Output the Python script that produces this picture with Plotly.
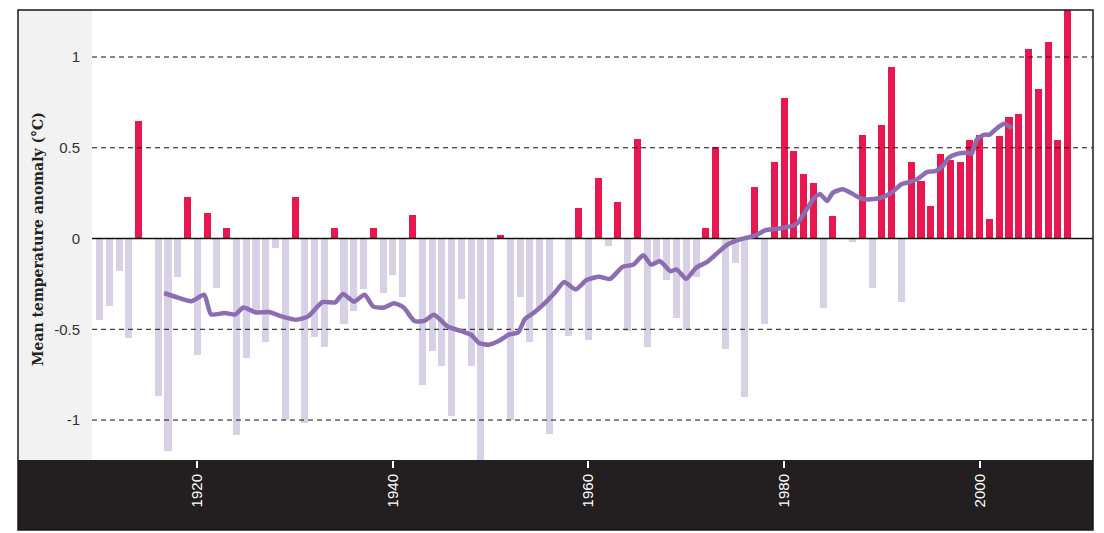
import plotly.graph_objects as go

# ---------------- data ----------------
years = list(range(1910, 2010))
anomaly = [
    -0.45, -0.37, -0.18, -0.55, 0.65, 0.0, -0.87, -1.17, -0.21, 0.23,      # 1910-1919
    -0.64, 0.14, -0.27, 0.06, -1.08, -0.66, -0.41, -0.57, -0.05, -1.00,    # 1920-1929
    0.23, -1.015, -0.545, -0.595, 0.056, -0.47, -0.40, -0.28, 0.056, -0.30,  # 1930-1939
    -0.20, -0.32, 0.128, -0.805, -0.62, -0.70, -0.976, -0.333, -0.70, -1.30,  # 1940-1949
    -0.505, 0.017, -1.00, -0.32, -0.57, -0.38, -1.076, 0.0, -0.537, 0.167,  # 1950-1959
    -0.557, 0.333, -0.043, 0.20, -0.51, 0.55, -0.60, -0.14, -0.23, -0.44,   # 1960-1969
    -0.505, -0.21, 0.056, 0.507, -0.61, -0.133, -0.875, 0.283, -0.47, 0.42, # 1970-1979
    0.776, 0.48, 0.353, 0.304, -0.38, 0.123, 0.0, -0.018, 0.573, -0.275,   # 1980-1989
    0.623, 0.947, -0.348, 0.42, 0.315, 0.178, 0.468, 0.43, 0.424, 0.545,   # 1990-1999
    0.572, 0.11, 0.567, 0.672, 0.688, 1.046, 0.826, 1.084, 0.545, 1.35,    # 2000-2009
]

trend_years = [
    1916.6, 1918.0, 1919.4, 1920.7, 1921.4, 1922.8, 1923.9, 1924.7, 1926.0, 1927.3,
    1928.7, 1930.1, 1931.3, 1932.8, 1934.1, 1934.9, 1936.0, 1937.1, 1938.0, 1939.1,
    1940.1, 1941.1, 1942.2, 1943.2, 1944.2, 1945.6, 1947.0, 1948.0, 1948.8, 1949.8,
    1950.8, 1951.9, 1952.8, 1953.5, 1954.5, 1955.4, 1956.6, 1957.5, 1958.7, 1959.8,
    1961.1, 1962.2, 1963.5, 1964.6, 1965.6, 1966.4, 1967.3, 1968.4, 1969.0, 1970.0,
    1971.0, 1972.1, 1973.2, 1974.2, 1975.1, 1976.1, 1977.1, 1978.1, 1979.1, 1980.2,
    1981.3, 1982.3, 1983.1, 1983.7, 1984.4, 1985.0, 1986.0, 1986.9, 1987.9, 1988.9,
    1989.9, 1991.0, 1992.0, 1992.8, 1993.7, 1994.6, 1995.5, 1996.3, 1996.8, 1997.7,
    1998.7, 1999.2, 1999.7, 2000.5, 2001.0, 2001.8, 2002.5, 2003.3,
]
trend_values = [
    -0.30, -0.325, -0.345, -0.31, -0.417, -0.41, -0.418, -0.38, -0.407, -0.405,
    -0.43, -0.447, -0.43, -0.35, -0.352, -0.305, -0.347, -0.31, -0.375, -0.38,
    -0.356, -0.38, -0.454, -0.454, -0.42, -0.485, -0.51, -0.53, -0.575, -0.585,
    -0.565, -0.528, -0.518, -0.443, -0.405, -0.363, -0.296, -0.24, -0.28, -0.229,
    -0.211, -0.222, -0.156, -0.143, -0.092, -0.143, -0.125, -0.18, -0.17, -0.222,
    -0.161, -0.13, -0.079, -0.033, -0.011, 0.004, 0.017, 0.046, 0.053, 0.062,
    0.08, 0.16, 0.225, 0.244, 0.207, 0.253, 0.271, 0.249, 0.22, 0.216,
    0.225, 0.253, 0.299, 0.311, 0.33, 0.366, 0.372, 0.403, 0.444, 0.466,
    0.472, 0.468, 0.545, 0.572, 0.572, 0.609, 0.633, 0.609,
]

y_ticks = [-1, -0.5, 0, 0.5, 1]
y_tick_labels = ["-1", "-0.5", "0", "0.5", "1"]
x_ticks = [1920, 1940, 1960, 1980, 2000]
x_tick_labels = ["1920", "1940", "1960", "1980", "2000"]
y_title = "Mean temperature anomaly (°C)"

# ---------------- style ----------------
RED = "#E8174F"
LAVENDER = "#D8D1E6"
LINE = "#8B6DB2"
X_RANGE = [1909.23, 2011.59]
Y_RANGE = [-1.220, 1.259]

W, H = 1104, 533
ML, MR, MT, MB = 92, 11, 10, 73
PW = W - ML - MR
PH = H - MT - MB

bar_colors = [RED if v > 0 else LAVENDER for v in anomaly]

fig = go.Figure()
fig.add_trace(go.Bar(x=years, y=anomaly, marker=dict(color=bar_colors, line=dict(width=0)),
                     width=0.72, showlegend=False, hoverinfo="x+y"))

# dashed grid lines above bars, below trend line
for v in y_ticks:
    if v == 0:
        continue
    fig.add_trace(go.Scatter(x=X_RANGE, y=[v, v], mode="lines",
                             line=dict(color="#111111", width=1, dash="5px,4px"),
                             showlegend=False, hoverinfo="skip"))
fig.add_trace(go.Scatter(x=X_RANGE, y=[0, 0], mode="lines",
                         line=dict(color="#111111", width=1.5),
                         showlegend=False, hoverinfo="skip"))

fig.add_trace(go.Scatter(x=trend_years, y=trend_values, mode="lines",
                         line=dict(color=LINE, width=4.5, shape="spline", smoothing=0.6),
                         showlegend=False))

left_px = 18
xl = (left_px - ML) / PW
yb = -(530 - (H - MB)) / PH

shapes = [
    dict(type="rect", xref="paper", yref="paper", x0=xl, x1=0, y0=0, y1=1,
         fillcolor="#F2F2F2", line=dict(width=0), layer="below"),
    dict(type="rect", xref="paper", yref="paper", x0=xl, x1=1, y0=yb, y1=0,
         fillcolor="#231F20", line=dict(width=0), layer="below"),
    dict(type="rect", xref="paper", yref="paper", x0=xl, x1=1, y0=yb, y1=1,
         fillcolor="rgba(0,0,0,0)", line=dict(color="#1a1a1a", width=1.5), layer="above"),
]

fig.update_layout(
    width=W, height=H,
    margin=dict(l=ML, r=MR, t=MT, b=MB, pad=0),
    paper_bgcolor="white", plot_bgcolor="white",
    shapes=shapes,
    bargap=0,
    xaxis=dict(range=X_RANGE, tickvals=x_ticks, ticktext=x_tick_labels,
               ticks="outside", ticklen=7, tickwidth=2, tickcolor="white",
               tickangle=-90, tickfont=dict(family="Liberation Sans, Arial", size=15, color="white"),
               showgrid=False, zeroline=False, showline=False, fixedrange=True),
    yaxis=dict(range=Y_RANGE, tickvals=y_ticks, ticktext=y_tick_labels,
               ticks="outside", ticklen=8, tickcolor="rgba(0,0,0,0)",
               tickfont=dict(family="Liberation Sans, Arial", size=15, color="#333333"),
               showgrid=False, zeroline=False, showline=False, fixedrange=True),
    annotations=[dict(text="<b>" + y_title + "</b>", xref="paper", yref="paper",
                      x=(38 - ML) / PW, y=(H - MB - 239) / PH,
                      xanchor="center", yanchor="middle", textangle=-90, showarrow=False,
                      font=dict(family="DejaVu Serif", size=14, color="#222222"))],
)

fig.write_html("out.html", config={"displayModeBar": False},
               post_script="document.body.style.margin='0';document.body.style.overflow='hidden';")
